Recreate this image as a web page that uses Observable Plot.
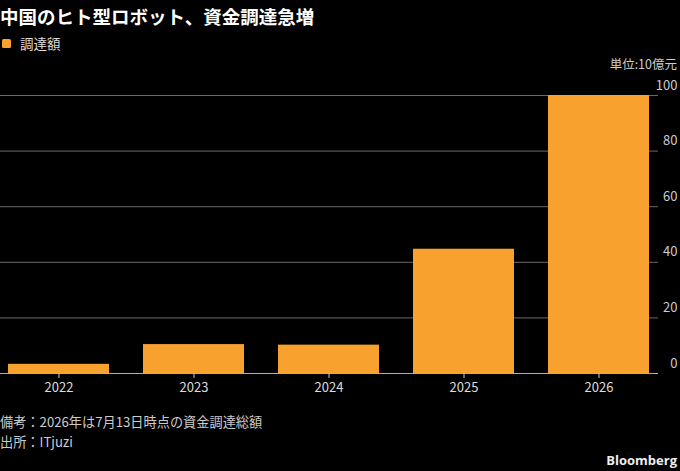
<!DOCTYPE html>
<html><head><meta charset="utf-8">
<script src="https://cdn.jsdelivr.net/npm/d3@7"></script>
<script src="https://cdn.jsdelivr.net/npm/@observablehq/plot@0.6"></script>
<style>
html,body{margin:0;padding:0;background:#000;}
body{width:680px;height:471px;overflow:hidden;position:relative;font-family:"Noto Sans CJK JP","Noto Sans",sans-serif;color:#fff;}
.abs{position:absolute;white-space:nowrap;}
#title{left:0;top:4px;font-size:18.5px;font-weight:bold;color:#fff;line-height:24px;}
#legend{left:2px;top:34px;font-size:13.5px;color:#ddd;line-height:18px;display:flex;align-items:center;}
#legend .sw{width:9px;height:9px;background:#f9a12e;border-radius:1.5px;margin-right:9px;display:inline-block;}
#unit{right:3px;top:57px;font-size:12.5px;color:#ccc;line-height:14px;}
#note{left:0;top:412px;font-size:13.2px;color:#ccc;line-height:20px;}
#brand{right:3px;top:450px;font-size:13px;font-weight:bold;color:#eee;line-height:20px;font-family:"Open Sans","Noto Sans",sans-serif;}
#chart{position:absolute;left:0;top:0;}
</style></head><body>
<div id="chart"></div>
<div id="title" class="abs">中国のヒト型ロボット、資金調達急増</div>
<div id="legend" class="abs"><span class="sw"></span>調達額</div>
<div id="unit" class="abs">単位:10億元</div>
<div id="note" class="abs">備考：2026年は7月13日時点の資金調達総額<br>出所：ITjuzi</div>
<div id="brand" class="abs">Bloomberg</div>
<script>
const years = ["2022", "2023", "2024", "2025", "2026"];
const amounts = [3.3, 10.4, 10.2, 44.7, 100];
const yTicks = [0, 20, 40, 60, 80, 100];

const data = years.map((y, i) => ({year: y, value: amounts[i]}));

const chart = Plot.plot({
  width: 680,
  height: 400,
  marginTop: 95,
  marginBottom: 27,
  marginLeft: 0,
  marginRight: 22,
  style: {background: "transparent", color: "#ccc", fontSize: "13px", fontFamily: "'Noto Sans CJK JP','Noto Sans',sans-serif"},
  x: {domain: years, paddingInner: 0.25, paddingOuter: 0.06, label: null},
  y: {domain: [0, 100], label: null},
  marks: [
    Plot.gridY(yTicks, {stroke: "#6a6a6a", strokeOpacity: 1}),
    Plot.barY(data, {x: "year", y: "value", fill: "#f9a12e"}),
    Plot.ruleY([0], {stroke: "#b0b0b0", strokeWidth: 1.2}),
    Plot.axisX({tickSize: 5, tickPadding: 4, stroke: "#ccc", fill: "#ddd", label: null}),
    Plot.axisY(yTicks, {anchor: "right", tickSize: 0, tickPadding: 0, textAnchor: "end", dx: 19, dy: -10, fill: "#ccc", label: null})
  ]
});
document.getElementById("chart").appendChild(chart);
</script>
</body></html>
